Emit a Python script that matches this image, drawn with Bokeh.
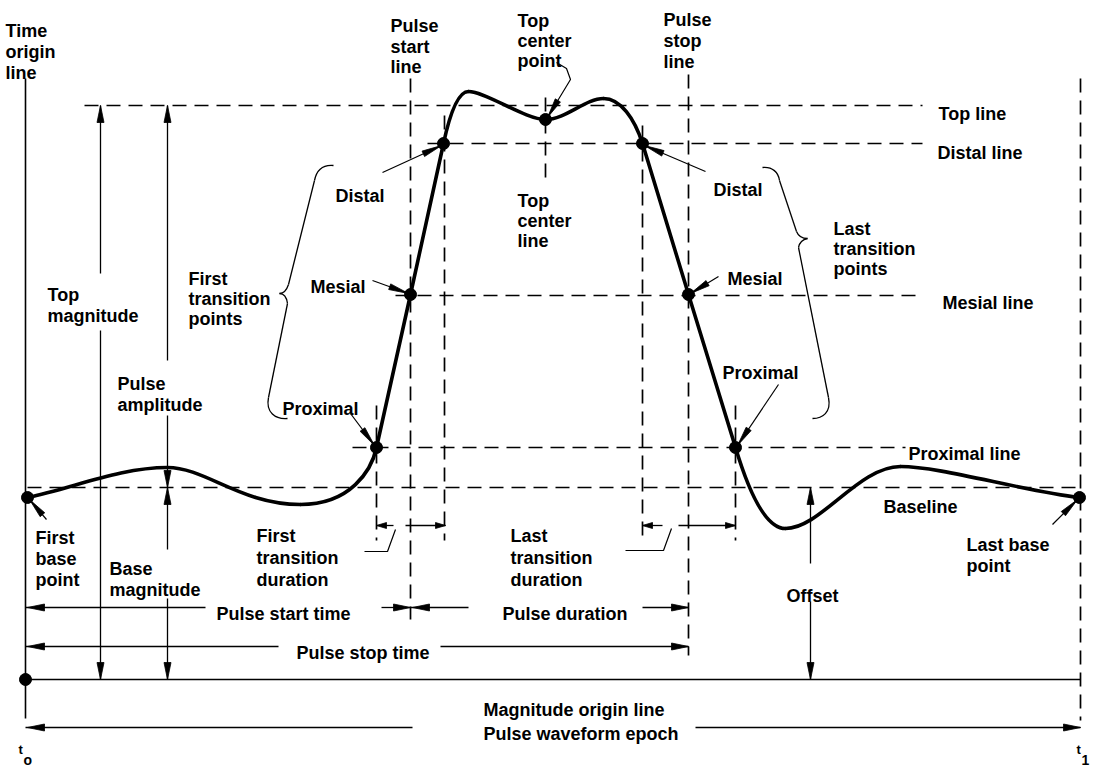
from bokeh.plotting import figure
from bokeh.models import Range1d
from bokeh.core.properties import value
from bokeh.embed import file_html
from bokeh.resources import INLINE

# ---------------- data (diagram coordinates, pixel units, y grows downward) -------------
# reference levels
level_names = ["Top line", "Distal line", "Mesial line", "Proximal line", "Baseline"]
level_y = [105, 143, 295, 447, 487]
level_x0 = [84, 427, 395, 352, 27]
level_x1 = [922, 922, 922, 905, 1079]

# dashed vertical time lines
vline_names = ["first proximal", "Pulse start line", "first distal", "Top center line",
               "last distal", "Pulse stop line", "last proximal", "epoch end"]
vline_x = [376, 410, 444, 545, 642, 688, 735, 1080]
vline_y0 = [405, 78, 115, 97, 125, 74, 405, 78]
vline_y1 = [540, 619, 540, 178, 540, 655, 540, 720]

# origin lines
time_origin_x = 25
time_origin_y = [78, 718]
mag_origin_y = 679
mag_origin_x = [25, 1080]

# characteristic points of the waveform
pt_names = ["First base point", "Proximal", "Mesial", "Distal", "Top center point",
            "Distal", "Mesial", "Proximal", "Last base point", "origin"]
pt_x = [27, 376, 410, 443, 545, 642, 688, 735, 1079, 25]
pt_y = [497, 447, 294, 143, 119, 143, 294, 447, 497, 679]

# waveform: cubic segments (start, control 1, control 2, end)
wv_x0 = [27, 167, 300, 443, 468, 545, 603, 735, 785, 900]
wv_y0 = [497, 467, 504, 143, 91, 119, 98, 447, 528, 466]
wv_cx0 = [74, 205, 350, 449, 485, 565, 620, 744, 820, 940]
wv_cy0 = [487, 467, 504, 115, 91, 119, 98, 477, 528, 466]
wv_cx1 = [120, 240, 371, 457, 525, 585, 634, 762, 858, 1020]
wv_cy1 = [467, 504, 470, 91, 119, 98, 118, 528, 466, 490]
wv_x1 = [167, 300, 376, 468, 545, 603, 642, 785, 900, 1079]
wv_y1 = [467, 504, 447, 91, 119, 98, 143, 528, 466, 497]
# straight transitions through proximal / mesial / distal
first_tr_x = [376, 410, 443]
first_tr_y = [447, 294, 143]
last_tr_x = [642, 688, 735]
last_tr_y = [143, 294, 447]

# vertical magnitude arrows
vm_names = ["Top magnitude", "Pulse amplitude", "Base magnitude", "Offset"]
vm_x = [100, 167, 167, 810]
vm_top = [105, 105, 487, 487]
vm_bot = [679, 487, 679, 679]
vm_gap0 = [273, 360, 549, 563]
vm_gap1 = [330, 415, 598, 601]

# horizontal time arrows
hm_names = ["Pulse start time", "Pulse duration", "Pulse stop time", "Pulse waveform epoch"]
hm_y = [607, 607, 646, 727]
hm_left = [25, 410, 25, 25]
hm_right = [410, 688, 688, 1080]
hm_gap0 = [205, 468, 278, 412]
hm_gap1 = [381, 642, 440, 695]

# transition duration arrows (tail -> tip)
td_y = [525, 525, 525, 525]
td_tail = [393, 405, 662, 678]
td_tip = [376, 445, 642, 735]

# leader arrows (tail -> tip)
ld_tx = [382, 372, 350, 705, 718, 778, 46, 1052]
ld_ty = [172, 280, 413, 171, 276, 384, 519, 524]
ld_hx = [441, 408, 374, 644, 690, 737, 29, 1077]
ld_hy = [145, 293, 445, 145, 293, 445, 499, 499]
tc_lead_x = [556, 566, 570, 547]
tc_lead_y = [62, 68, 79, 117]
ftd_lead_x = [395, 387, 364]
ftd_lead_y = [529, 551, 551]
ltd_lead_x = [671, 663, 625]
ltd_lead_y = [528, 550, 550]

# braces: hooks/tips as cubic pieces, straight parts as segments
br_x0 = [333, 288, 279, 268, 762, 796, 807, 828]
br_y0 = [165, 284, 293, 397, 167, 231, 238, 397]
br_cx0 = [322, 286, 283, 265, 772, 798, 802, 831]
br_cy0 = [164, 290, 293, 412, 166, 236, 239, 412]
br_cx1 = [316, 283, 286, 275, 778, 802, 799, 822]
br_cy1 = [170, 293, 296, 419, 172, 238, 242, 418]
br_x1 = [314, 279, 287, 287, 779, 807, 798, 812]
br_y1 = [180, 293, 303, 418, 180, 238, 247, 418]
brs_x0 = [314, 287, 779, 798]
brs_y0 = [180, 303, 180, 247]
brs_x1 = [288, 268, 796, 828]
brs_y1 = [284, 397, 231, 397]

# text labels (one entry per printed line)
labels = ["Time", "origin", "line",
          "Pulse", "start", "line",
          "Top", "center", "point",
          "Pulse", "stop", "line",
          "Top line", "Distal line",
          "Distal",
          "Top", "center", "line",
          "Distal",
          "Last", "transition", "points",
          "First", "transition", "points",
          "Top", "magnitude",
          "Mesial", "Mesial", "Mesial line",
          "Pulse", "amplitude",
          "Proximal", "Proximal", "Proximal line",
          "Baseline",
          "First", "base", "point",
          "Base", "magnitude",
          "First", "transition", "duration",
          "Last", "transition", "duration",
          "Last base", "point",
          "Offset",
          "Pulse start time", "Pulse duration", "Pulse stop time",
          "Magnitude origin line", "Pulse waveform epoch"]
label_x = [5, 5, 5,
           390, 390, 390,
           517, 517, 517,
           663, 663, 663,
           938, 937,
           335,
           517, 517, 517,
           713,
           833, 833, 833,
           188, 188, 188,
           47, 47,
           310, 727, 942,
           117, 117,
           282, 722, 908,
           883,
           35, 35, 35,
           109, 109,
           256, 256, 256,
           510, 510, 510,
           966, 966,
           786,
           216, 502, 296,
           483, 483]
label_y = [30, 51, 72,
           25, 46, 66,
           20, 40, 60,
           19, 40, 61,
           113, 152,
           195,
           200, 220, 240,
           189,
           228, 248, 268,
           278, 298, 318,
           294, 315,
           286, 278, 302,
           383, 404,
           408, 372, 453,
           506,
           537, 558, 579,
           568, 589,
           535, 557, 579,
           535, 557, 579,
           544, 565,
           595,
           613, 613, 652,
           709, 733]
# instants t0 and t1
inst_main = ["t", "t"]
inst_sub = ["o", "1"]
inst_x = [18, 1076]
inst_y = [749, 749]

# ---------------- figure ----------------
FONT = "'Liberation Sans', Arial, sans-serif"
p = figure(width=1094, height=767, x_range=Range1d(0, 1094), y_range=Range1d(767, 0),
           output_backend="svg", toolbar_location=None, min_border=0,
           x_axis_location=None, y_axis_location=None)
p.grid.visible = False
p.outline_line_color = None
p.background_fill_color = "white"
p.border_fill_color = "white"

DASH = "14 8"
# dashed levels and time lines
p.segment(level_x0, level_y, level_x1, level_y, line_color="black", line_width=1.7, line_dash=DASH)
p.segment(vline_x, vline_y0, vline_x, vline_y1, line_color="black", line_width=1.7, line_dash=DASH)

# origin lines
p.line([time_origin_x, time_origin_x], time_origin_y, line_color="black", line_width=1.6)
p.line(mag_origin_x, [mag_origin_y, mag_origin_y], line_color="black", line_width=1.6)

# waveform
p.bezier(x0=wv_x0, y0=wv_y0, x1=wv_x1, y1=wv_y1, cx0=wv_cx0, cy0=wv_cy0, cx1=wv_cx1, cy1=wv_cy1,
         line_color="black", line_width=3.6, line_cap="round")
p.line(first_tr_x, first_tr_y, line_color="black", line_width=3.6, line_cap="round")
p.line(last_tr_x, last_tr_y, line_color="black", line_width=3.6, line_cap="round")

# arrowheads helper
heads_x, heads_y = [], []


def head(xs, ys, xt, yt, L, W):
    dx, dy = xt - xs, yt - ys
    n = (dx * dx + dy * dy) ** 0.5
    ux, uy = dx / n, dy / n
    bx, by = xt - ux * L, yt - uy * L
    px, py = -uy * W / 2, ux * W / 2
    heads_x.append([xt, bx + px, bx - px])
    heads_y.append([yt, by + py, by - py])


# vertical magnitude arrows
sx0, sy0, sx1, sy1 = [], [], [], []
for x, t, b, g0, g1 in zip(vm_x, vm_top, vm_bot, vm_gap0, vm_gap1):
    sx0 += [x, x]; sy0 += [t, g1]; sx1 += [x, x]; sy1 += [g0, b]
    head(x, t + 5, x, t, 17, 7)
    head(x, b - 5, x, b, 17, 7)
# horizontal time arrows
for y, l, r, g0, g1 in zip(hm_y, hm_left, hm_right, hm_gap0, hm_gap1):
    sx0 += [l, g1]; sy0 += [y, y]; sx1 += [g0, r]; sy1 += [y, y]
    head(l + 5, y, l + 2, y, 17, 7)
    head(r - 5, y, r, y, 17, 7)
p.segment(sx0, sy0, sx1, sy1, line_color="black", line_width=1.3)

# transition duration arrows
p.segment(td_tail, td_y, td_tip, td_y, line_color="black", line_width=1.3)
for a, b, y in zip(td_tail, td_tip, td_y):
    head(a, y, b, y, 10, 6)

# leaders
p.segment(ld_tx, ld_ty, ld_hx, ld_hy, line_color="black", line_width=1.2)
for a, b, c, d in zip(ld_tx, ld_ty, ld_hx, ld_hy):
    head(a, b, c, d, 20, 6)
p.line(tc_lead_x, tc_lead_y, line_color="black", line_width=1.2)
head(tc_lead_x[-2], tc_lead_y[-2], tc_lead_x[-1], tc_lead_y[-1], 20, 6)
p.line(ftd_lead_x, ftd_lead_y, line_color="black", line_width=1.2)
p.line(ltd_lead_x, ltd_lead_y, line_color="black", line_width=1.2)

p.patches(heads_x, heads_y, fill_color="black", line_color="black", line_width=0.8)

# braces
p.bezier(x0=br_x0, y0=br_y0, x1=br_x1, y1=br_y1, cx0=br_cx0, cy0=br_cy0, cx1=br_cx1, cy1=br_cy1,
         line_color="black", line_width=1.3)
p.segment(brs_x0, brs_y0, brs_x1, brs_y1, line_color="black", line_width=1.3)

# points
p.scatter(pt_x, pt_y, size=12, marker="circle", fill_color="black", line_color="black")

# labels
p.text(x=label_x, y=label_y, text=labels, text_font=value(FONT), text_font_style="bold",
       text_font_size="18px", text_baseline="alphabetic", text_align="left", text_color="black")
p.text(x=inst_x, y=inst_y, text=inst_main, text_font=value(FONT), text_font_style="bold",
       text_font_size="13px", text_baseline="alphabetic", text_align="left", text_color="black")
p.text(x=[v + 5 for v in inst_x], y=[v + 10 for v in inst_y], text=inst_sub, text_font=value(FONT),
       text_font_style="bold", text_font_size="14px", text_baseline="alphabetic",
       text_align="left", text_color="black")

open("out.html", "w").write(file_html(p, INLINE))
